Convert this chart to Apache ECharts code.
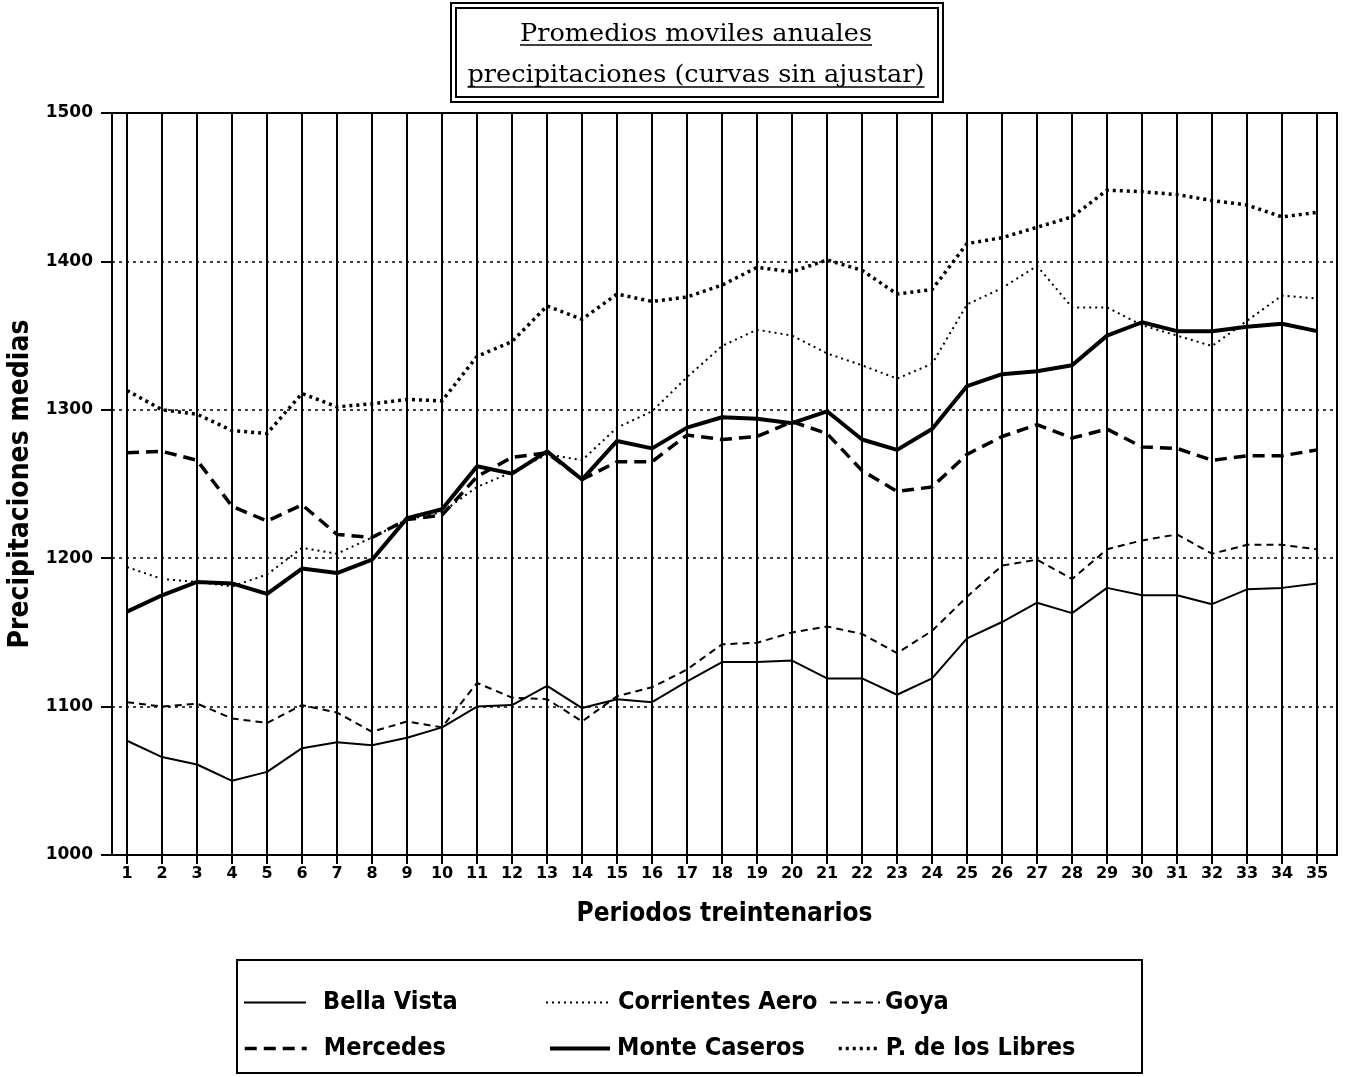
<!DOCTYPE html>
<html>
<head>
<meta charset="utf-8">
<script src="https://cdn.jsdelivr.net/npm/echarts@6/dist/echarts.min.js"></script>
<style>
  html, body { margin: 0; padding: 0; background: #fff; }
  #chart { width: 1352px; height: 1077px; }
</style>
</head>
<body>
<div id="chart"></div>
<script>
// Thirty-year periods (1..35)
const periods = [1, 2, 3, 4, 5, 6, 7, 8, 9, 10, 11, 12, 13, 14, 15, 16, 17, 18, 19, 20,
                 21, 22, 23, 24, 25, 26, 27, 28, 29, 30, 31, 32, 33, 34, 35];

// Annual moving averages of precipitation (mm), one array per station
const bellaVista = [1077, 1066, 1061, 1050, 1056, 1072, 1076, 1074, 1079, 1086,
                    1100, 1101, 1114, 1099, 1105, 1103, 1117, 1130, 1130, 1131,
                    1119, 1119, 1108, 1119, 1146, 1157, 1170, 1163, 1180, 1175,
                    1175, 1169, 1179, 1180, 1183];
const corrientesAero = [1194, 1186, 1184, 1181, 1189, 1207, 1203, 1214, 1226, 1231,
                        1248, 1258, 1270, 1266, 1288, 1299, 1322, 1343, 1354, 1350,
                        1338, 1330, 1321, 1331, 1371, 1382, 1397, 1369, 1369, 1357,
                        1350, 1343, 1360, 1377, 1375];
const goya = [1103, 1100, 1102, 1092, 1089, 1101, 1096, 1083, 1090, 1086,
              1116, 1106, 1105, 1090, 1107, 1113, 1125, 1142, 1143, 1150,
              1154, 1149, 1136, 1151, 1174, 1195, 1199, 1186, 1206, 1212,
              1216, 1203, 1209, 1209, 1206];
const mercedes = [1271, 1272, 1266, 1235, 1225, 1236, 1216, 1214, 1226, 1229,
                  1255, 1268, 1271, 1253, 1265, 1265, 1283, 1280, 1282, 1292,
                  1284, 1259, 1245, 1248, 1270, 1282, 1290, 1281, 1287, 1275,
                  1274, 1266, 1269, 1269, 1273];
const monteCaseros = [1164, 1175, 1184, 1183, 1176, 1193, 1190, 1199, 1227, 1233,
                      1262, 1257, 1272, 1253, 1279, 1274, 1288, 1295, 1294, 1291,
                      1299, 1280, 1273, 1287, 1316, 1324, 1326, 1330, 1350, 1359,
                      1353, 1353, 1356, 1358, 1353];
const pasoLibres = [1313, 1300, 1297, 1286, 1284, 1311, 1302, 1304, 1307, 1306,
                    1336, 1346, 1370, 1361, 1378, 1373, 1376, 1384, 1396, 1393,
                    1401, 1394, 1378, 1381, 1412, 1416, 1423, 1430, 1448, 1447,
                    1445, 1441, 1438, 1430, 1433];

const yTicks = [1000, 1100, 1200, 1300, 1400, 1500];

const titleLines = ['Promedios moviles anuales', 'precipitaciones (curvas sin ajustar)'];
const xName = 'Periodos treintenarios';
const yName = 'Precipitaciones medias';

const SANS = "'DejaVu Sans', sans-serif";
const COND = "'DejaVu Sans Condensed', 'DejaVu Sans', sans-serif";

// Station styles: thin/thick, solid/dotted/dashed
const stations = [
  { name: 'Bella Vista',      data: bellaVista,     width: 2,   type: 'solid' },
  { name: 'Corrientes Aero',  data: corrientesAero, width: 2,   type: [2, 4] },
  { name: 'Goya',             data: goya,           width: 2,   type: [7, 5] },
  { name: 'Mercedes',         data: mercedes,       width: 3.5, type: [12, 7] },
  { name: 'Monte Caseros',    data: monteCaseros,   width: 4,   type: 'solid' },
  { name: 'P. de los Libres', data: pasoLibres,     width: 3.5, type: [3, 4] }
];

// Legend slots: [left of sample line, sample length, top, extra text padding]
const legendSlots = [
  [243, 62, 990, 12],
  [545, 63, 990, 4],
  [829, 50, 990, 0],
  [243, 62, 1036, 12],
  [548, 60, 1036, 2],
  [837, 42, 1036, 0]
];

// Horizontal stretch for the serif title lines to reach the box width
function measure(text, font) {
  const c = document.createElement('canvas').getContext('2d');
  c.font = font;
  return c.measureText(text).width;
}
const titleFont = "24px 'DejaVu Serif'";
const titleWidths = [352, 457];
const titleScale = titleLines.map((t, i) => titleWidths[i] / measure(t, titleFont));

const chart = echarts.init(document.getElementById('chart'), null, { renderer: 'canvas' });

const option = {
  backgroundColor: '#fff',
  animation: false,
  grid: {
    left: 112, right: 15, top: 113, bottom: 222,
    containLabel: false,
    outerBoundsMode: 'none',
    show: true, borderColor: '#000', borderWidth: 2, backgroundColor: 'transparent'
  },
  xAxis: {
    type: 'value',
    min: 0.57,
    max: 35.57,
    axisLine: { show: true, lineStyle: { color: '#000', width: 2 } },
    axisTick: { show: true, customValues: periods, length: 9, inside: false,
                lineStyle: { color: '#000', width: 2 } },
    axisLabel: { customValues: periods, color: '#000', fontFamily: SANS,
                 fontWeight: 'bold', fontSize: 16, margin: 11 },
    splitLine: { show: true, lineStyle: { color: '#000', width: 2 } },
    name: xName,
    nameLocation: 'middle',
    nameGap: 46,
    nameTextStyle: { color: '#000', fontFamily: COND, fontWeight: 'bold', fontSize: 26 }
  },
  yAxis: {
    type: 'value',
    min: yTicks[0],
    max: yTicks[yTicks.length - 1],
    interval: 100,
    axisLine: { show: true, lineStyle: { color: '#000', width: 2 } },
    axisTick: { show: true, length: 11, lineStyle: { color: '#000', width: 2 } },
    axisLabel: { color: '#000', fontFamily: SANS, fontWeight: 'bold', fontSize: 17, margin: 19,
                 formatter: v => String(v) },
    splitLine: { show: true, lineStyle: { color: '#000', width: 1.5, type: [3, 4] } },
    name: yName,
    nameLocation: 'middle',
    nameGap: 68,
    nameRotate: 90,
    nameTextStyle: { color: '#000', fontFamily: COND, fontWeight: 'bold', fontSize: 28 }
  },
  legend: stations.map((s, i) => ({
    data: [s.name],
    left: legendSlots[i][0],
    top: legendSlots[i][2],
    padding: 0,
    itemWidth: legendSlots[i][1],
    itemHeight: 14,
    selectedMode: false,
    itemStyle: { opacity: 0 },
    lineStyle: { color: '#000', width: s.width, type: s.type, cap: 'butt' },
    textStyle: {
      color: '#000', fontFamily: COND, fontWeight: 'bold', fontSize: 25,
      padding: [0, 0, 0, legendSlots[i][3]]
    }
  })),
  graphic: [
    // title box (double frame)
    { type: 'rect', silent: true, shape: { x: 451, y: 3, width: 492, height: 99 },
      style: { fill: 'none', stroke: '#000', lineWidth: 2 } },
    { type: 'rect', silent: true, shape: { x: 456, y: 8, width: 482, height: 89 },
      style: { fill: 'none', stroke: '#000', lineWidth: 2 } },
    { type: 'text', silent: true, x: 696, y: 35, scaleX: titleScale[0],
      style: { text: titleLines[0], x: 0, y: 0, align: 'center', verticalAlign: 'middle',
               font: titleFont, fill: '#000' } },
    { type: 'line', silent: true,
      shape: { x1: 696 - titleWidths[0] / 2, y1: 45, x2: 696 + titleWidths[0] / 2, y2: 45 },
      style: { stroke: '#000', lineWidth: 1.5 } },
    { type: 'text', silent: true, x: 696, y: 76, scaleX: titleScale[1],
      style: { text: titleLines[1], x: 0, y: 0, align: 'center', verticalAlign: 'middle',
               font: titleFont, fill: '#000' } },
    { type: 'line', silent: true,
      shape: { x1: 696 - titleWidths[1] / 2, y1: 87, x2: 696 + titleWidths[1] / 2, y2: 87 },
      style: { stroke: '#000', lineWidth: 1.5 } },
    // legend frame
    { type: 'rect', silent: true, shape: { x: 237, y: 960, width: 905, height: 113 },
      style: { fill: 'none', stroke: '#000', lineWidth: 2 } }
  ],
  series: stations.map(s => ({
    name: s.name,
    type: 'line',
    symbol: 'none',
    silent: true,
    data: periods.map((p, i) => [p, s.data[i]]),
    lineStyle: { color: '#000', width: s.width, type: s.type, cap: 'butt', join: 'round' },
    itemStyle: { color: '#000' },
    z: 3
  }))
};

chart.setOption(option);
</script>
</body>
</html>
